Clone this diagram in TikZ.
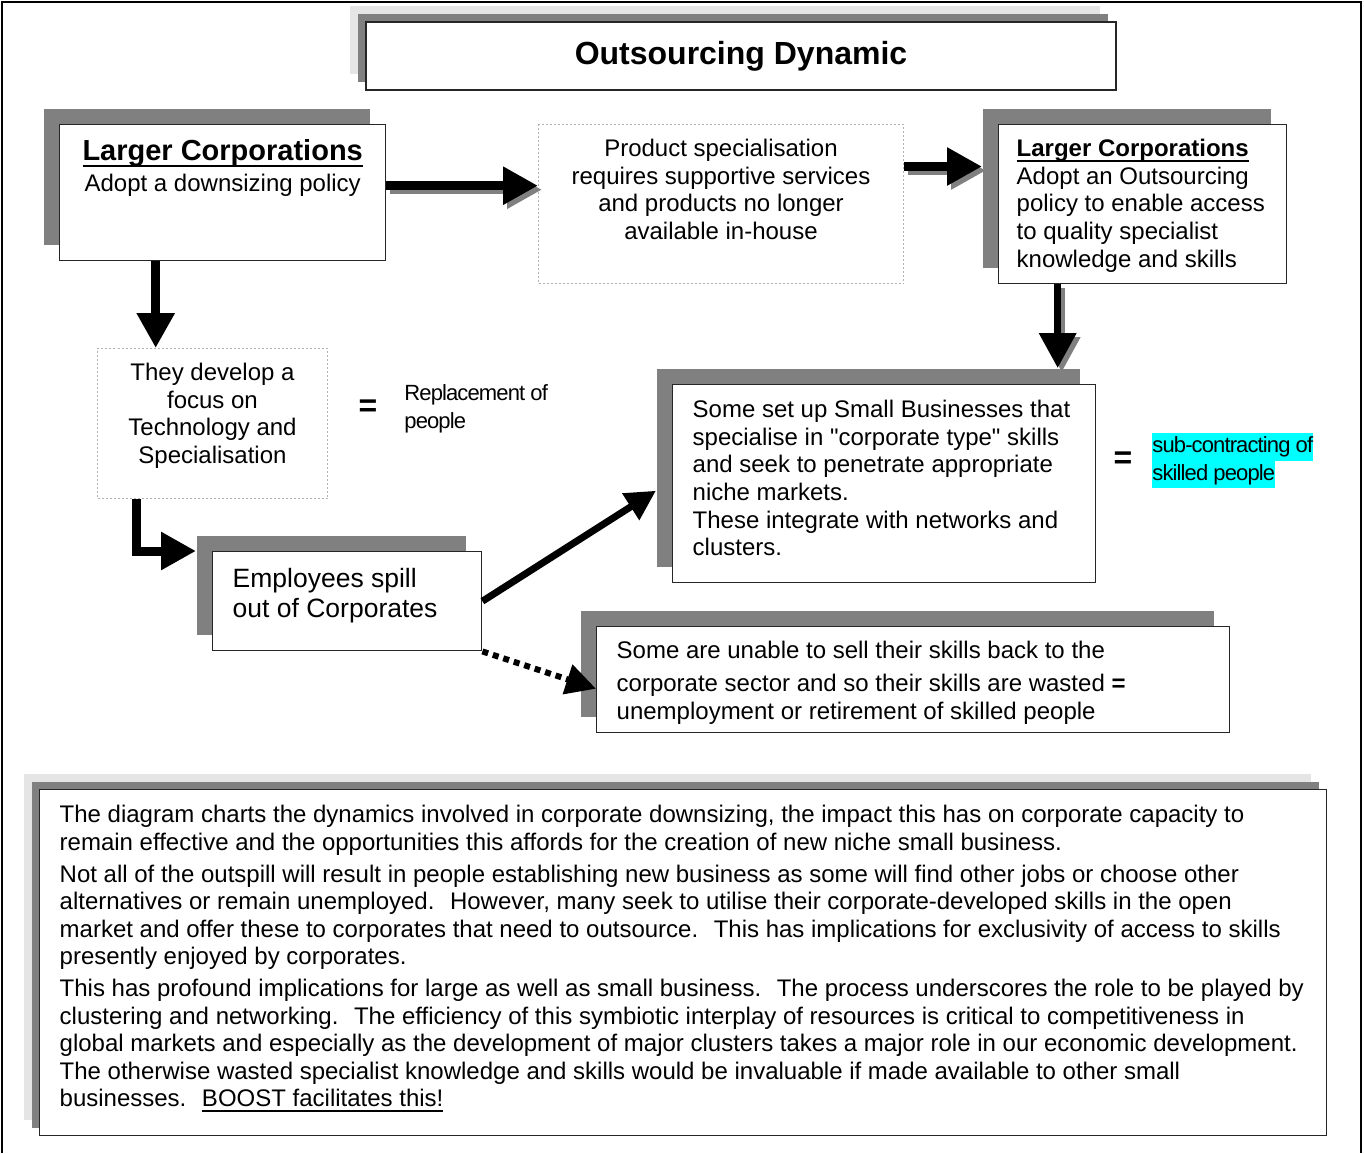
\documentclass[tikz,border=0pt]{standalone}
\usepackage{fontspec}
\setmainfont{Liberation Sans}
\newfontfamily\tightfont[LetterSpace=-4]{Liberation Sans}
\usetikzlibrary{arrows.meta,shadows}

\definecolor{shade}{gray}{0.5}
\definecolor{paleshade}{gray}{0.9}
\definecolor{dotgray}{gray}{0.7}
\definecolor{marker}{rgb}{0,1,1}
\setlength{\fboxsep}{0pt}

\newcommand{\bodyfont}{\fontsize{12pt}{13.8pt}\selectfont}
\newcommand{\topstrut}[1]{\rule{0pt}{#1}}
\newcommand{\boxtext}[3]{\parbox[c][#1][t]{#2}{#3}}
\newcommand{\undl}[2][0.08em]{\leavevmode\setbox0\hbox{#2}\rlap{\rule[-0.22em]{\wd0}{#1}}\box0}
\newcommand{\hlline}[1]{\colorbox{marker}{\strut#1}}

\begin{document}
\begin{tikzpicture}[x=0.5pt,y=-0.5pt,
    every node/.style={inner sep=0pt,font=\bodyfont},
    card/.style={draw=black!85,line width=0.7pt,fill=white,inner xsep=10pt,
      general shadow={shadow xshift=-8pt,shadow yshift=8pt,fill=shade,draw=none}},
    stackcard/.style={draw=black!85,line width=0.7pt,fill=white,inner xsep=10pt,
      general shadow={shadow xshift=-8pt,shadow yshift=8pt,fill=paleshade,draw=none},
      general shadow={shadow xshift=-4pt,shadow yshift=4pt,fill=shade,draw=none}},
    dotbox/.style={draw=dotgray,line width=0.5pt,dash pattern=on 1pt off 1pt,fill=white,inner xsep=10pt},
    eqsign/.style={font=\fontsize{16pt}{16pt}\selectfont\bfseries},
    sidenote/.style={font=\fontsize{11pt}{13.75pt}\tightfont,align=left},
    fatarrow/.style={line width=4.5pt,-{Triangle[length=17.5pt,width=18pt]}},
    fatshadow/.style={fatarrow,draw=shade,transform canvas={xshift=2pt,yshift=-2pt}},
    slimarrow/.style={line width=3.5pt,-{Triangle[length=15pt,width=15pt]}},
    dotarrow/.style={line width=3pt,dash pattern=on 3pt off 2.5pt,-{Triangle[length=15pt,width=15pt]}}]

  \useasboundingbox (0,0) rectangle (1364,1153);
  \draw[line width=1.3pt] (2,1153) -- (2,2) -- (1361,2) -- (1361,1153);

  % boxes
  \node[stackcard,minimum width=375pt,minimum height=34pt,
        font=\fontsize{16pt}{18pt}\selectfont\bfseries] (title) at (741,56) {Outsourcing Dynamic};

  \node[card,anchor=north west] (lead) at (59,124)
    {\boxtext{68pt}{143pt}{\centering\topstrut{18pt}{\fontsize{14.5pt}{16pt}\selectfont\bfseries\undl{Larger Corporations}}\\[1.5pt]Adopt a downsizing policy}};

  \node[dotbox,anchor=north west] (gap) at (538,124)
    {\boxtext{79.5pt}{162.5pt}{\centering\topstrut{16pt}Product specialisation\\requires supportive services\\and products no longer\\available in-house}};

  \node[card,anchor=north west,inner xsep=9pt] (outsource) at (998,124)
    {\boxtext{79.5pt}{126pt}{\raggedright\topstrut{16pt}{\bfseries\undl{Larger Corporations}}\\Adopt an Outsourcing\\policy to enable access\\to quality specialist\\knowledge and skills}};

  \node[dotbox,anchor=north west] (techfocus) at (97,348)
    {\boxtext{75pt}{95pt}{\centering\topstrut{16pt}They develop a\\focus on\\Technology and\\Specialisation}};

  \node[eqsign] (eqrepl) at (368,408) {=};
  \node[sidenote,anchor=west] (repl) at (404,409) {Replacement of\\people};

  \node[card,anchor=north west] (spill) at (212,551)
    {\boxtext{49.5pt}{114.5pt}{\fontsize{13.25pt}{15pt}\selectfont\raggedright\topstrut{18pt}Employees spill\\out of Corporates}};

  \node[card,anchor=north west] (smallbiz) at (672,384)
    {\boxtext{99pt}{191.5pt}{\raggedright\topstrut{16.5pt}Some set up Small Businesses that\\specialise in \textquotedbl corporate type\textquotedbl\ skills\\and seek to penetrate appropriate\\niche markets.\\These integrate with networks and\\clusters.}};

  \node[eqsign] (eqsub) at (1123,460) {=};
  \node[sidenote,anchor=north west] (subcon) at (1152,433) {\hlline{sub-contracting of}\\\hlline{skilled people}};

  \node[card,anchor=north west] (wasted) at (596,626)
    {\boxtext{53pt}{296.5pt}{\raggedright\topstrut{16pt}Some are unable to sell their skills back to the\\[2.5pt]corporate sector and so their skills are wasted {\bfseries =}\\[0.5pt]unemployment or retirement of skilled people}};

  \node[stackcard,anchor=north west] (summary) at (39,789)
    {\boxtext{173pt}{623.5pt}{\raggedright\fontsize{12pt}{13.75pt}\selectfont\topstrut{16.5pt}%
    The diagram charts the dynamics involved in corporate downsizing, the impact this has on corporate capacity to\\
    remain effective and the opportunities this affords for the creation of new niche small business.\\[2.25pt]
    Not all of the outspill will result in people establishing new business as some will find other jobs or choose other\\
    alternatives or remain unemployed.~ However, many seek to utilise their corporate-developed skills in the open\\
    market and offer these to corporates that need to outsource.~ This has implications for exclusivity of access to skills\\
    presently enjoyed by corporates.\\[2.25pt]
    This has profound implications for large as well as small business.~ The process underscores the role to be played by\\
    clustering and networking.~ The efficiency of this symbiotic interplay of resources is critical to competitiveness in\\
    global markets and especially as the development of major clusters takes a major role in our economic development.\\
    The otherwise wasted specialist knowledge and skills would be invaluable if made available to other small\\
    businesses.~ \undl[0.07em]{BOOST facilitates this!}}};

  % connectors
  \coordinate (ab) at ([yshift=3.5pt]lead.east);
  \draw[fatshadow] (ab) -- (ab -| gap.west);
  \draw[fatarrow] (ab) -- (ab -| gap.west);

  \coordinate (bc) at ([yshift=18.75pt]gap.east);
  \coordinate (ctip) at ([xshift=-8pt]outsource.west);
  \draw[fatshadow] (bc) -- (bc -| ctip);
  \draw[fatarrow] (bc) -- (bc -| ctip);

  \coordinate (ad) at ([xshift=-33.5pt]lead.south);
  \draw[fatarrow] (ad) -- (ad |- techfocus.north);

  \coordinate (cf) at ([xshift=-42.5pt]outsource.south);
  \coordinate (ftop) at ([yshift=8pt]smallbiz.north);
  \draw[fatshadow,line width=3.5pt] (cf) -- (cf |- ftop);
  \draw[fatarrow,line width=3.5pt] (cf) -- (cf |- ftop);

  \coordinate (de) at ([xshift=-38pt]techfocus.south);
  \coordinate (etip) at ([xshift=-8pt]spill.north west);
  \draw[fatarrow] (de) |- (etip);

  \coordinate (ftip) at ([xshift=-8pt,yshift=-3.5pt]smallbiz.west);
  \draw[slimarrow] (spill.east) -- (ftip);

  \coordinate (gtip) at ([yshift=-4.5pt]wasted.west);
  \draw[dotarrow] (spill.south east) -- (gtip);
\end{tikzpicture}
\end{document}
